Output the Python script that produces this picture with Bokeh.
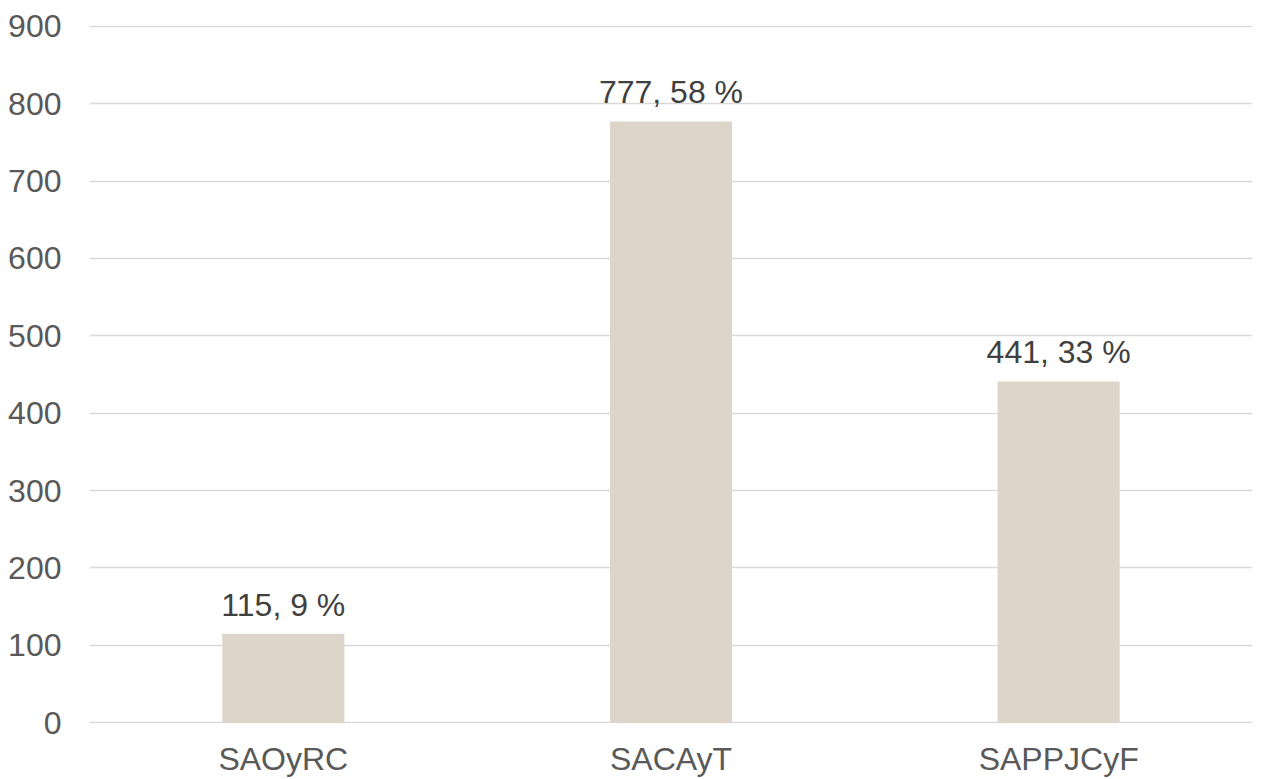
from bokeh.plotting import figure
from bokeh.models import ColumnDataSource, FactorRange, Range1d, FixedTicker, LabelSet
from bokeh.core.properties import value
from bokeh.embed import file_html
from bokeh.resources import INLINE

categories = ["SAOyRC", "SACAyT", "SAPPJCyF"]
values = [115, 777, 441]
percents = [9, 58, 33]
y_ticks = [0, 100, 200, 300, 400, 500, 600, 700, 800, 900]

labels = [f"{v}, {p} %" for v, p in zip(values, percents)]
src = ColumnDataSource(dict(cat=categories, val=values, lab=labels))

FONT = "Liberation Sans"

p = figure(
    x_range=FactorRange(*categories, range_padding=0),
    y_range=Range1d(-1, 901),
    width=1263, height=779,
    output_backend="svg", toolbar_location=None,
    min_border_left=89, min_border_right=11, min_border_top=25, min_border_bottom=55,
)
p.outline_line_color = None
p.background_fill_color = "white"
p.border_fill_color = "white"

p.vbar(x="cat", top="val", width=0.315, source=src, fill_color="#DDD5CA", line_color=None)

lbl = LabelSet(x="cat", y="val", text="lab", source=src, text_align="center",
               text_baseline="alphabetic", y_offset=18, text_font=value(FONT),
               text_font_size="32px", text_color="#404040")
p.add_layout(lbl)

p.yaxis.ticker = FixedTicker(ticks=y_ticks)
p.ygrid.ticker = FixedTicker(ticks=y_ticks)
p.ygrid.grid_line_color = "#D9D9D9"
p.ygrid.grid_line_width = 1.5
p.xgrid.grid_line_color = None

for ax in (p.xaxis, p.yaxis):
    ax.axis_line_color = None
    ax.major_tick_line_color = None
    ax.minor_tick_line_color = None
    ax.major_tick_out = 0
    ax.major_tick_in = 0
    ax.minor_tick_out = 0
    ax.major_label_text_font = FONT
    ax.major_label_text_font_size = "32px"
    ax.major_label_text_color = "#595959"

p.yaxis.major_label_standoff = 28
p.xaxis.major_label_standoff = 17

open("out.html", "w").write(file_html(p, INLINE))
